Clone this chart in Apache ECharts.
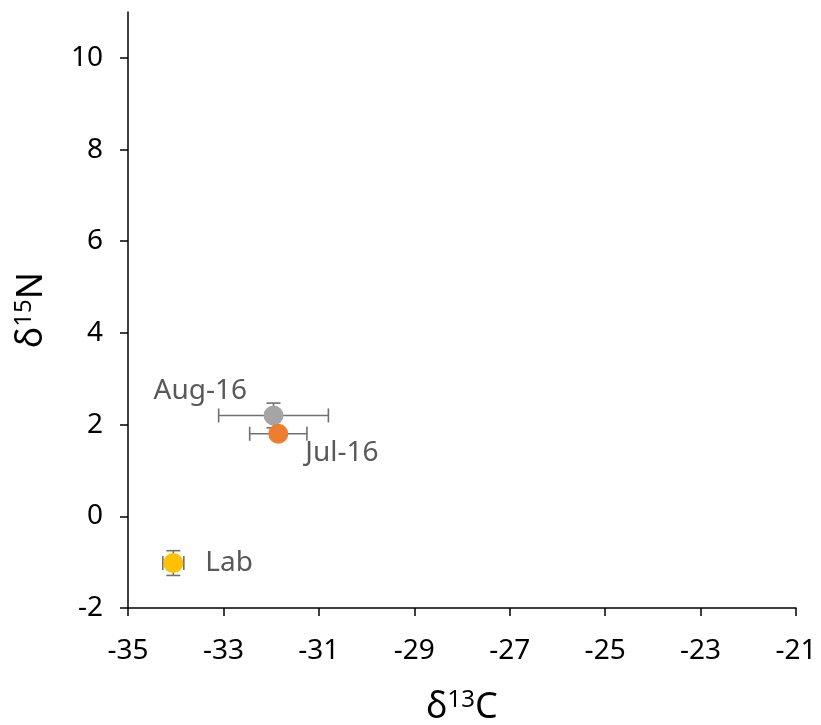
<!DOCTYPE html>
<html><head><meta charset="utf-8">
<script src="https://cdn.jsdelivr.net/npm/echarts@6/dist/echarts.min.js"></script>
<style>html,body{margin:0;padding:0;background:#fff}#c{width:821px;height:725px}</style>
</head><body><div id="c"></div>
<script>
const names = ['Lab', 'Jul-16', 'Aug-16'];
const d13C = [-34.05, -31.85, -31.95];
const d15N = [-1.02, 1.8, 2.2];
const xErr = [0.22, 0.6, 1.15];
const yErr = [0.27, 0.1, 0.27];
const colors = ['#FFC000', '#ED7D31', '#A5A5A5'];
const xTicks = [-35, -33, -31, -29, -27, -25, -23, -21];
const yTicks = [-2, 0, 2, 4, 6, 8, 10];

const FONT = 'Noto Sans';
const chart = echarts.init(document.getElementById('c'), null, {renderer: 'canvas'});
const labelPos = {
  'Lab': {position: 'right', distance: 22},
  'Jul-16': {position: [37, 15]},
  'Aug-16': {position: [-110, -28]}
};
const errData = names.map((n, i) => [d13C[i], d15N[i], xErr[i], yErr[i]]);
const order = [2, 1, 0];
const scatterSeries = order.map(i => ({
  type: 'scatter',
  name: names[i],
  data: [[d13C[i], d15N[i]]],
  symbolSize: 20,
  z: 3 + (i === 1 ? 1 : 0),
  itemStyle: {color: colors[i], opacity: 1},
  label: Object.assign({
    show: true,
    formatter: names[i],
    color: '#595959',
    fontFamily: FONT,
    fontSize: 28
  }, labelPos[names[i]])
}));
const titleRich = {
  a: {fontFamily: FONT, fontSize: 36, color: '#000'},
  s: {fontFamily: FONT, fontSize: 24, color: '#000', verticalAlign: 'top', padding: [0, 0, 16, 0]}
};
chart.setOption({
  animation: false,
  grid: {left: 128, right: 25, top: 12, bottom: 117, outerBoundsMode: 'none', containLabel: false},
  xAxis: {
    type: 'value', min: -35, max: -21,
    splitLine: {show: false},
    axisLine: {onZero: false, lineStyle: {color: '#000', width: 1.5}},
    axisTick: {show: true, length: 8, lineStyle: {color: '#000', width: 1.5}, customValues: xTicks},
    axisLabel: {customValues: xTicks, color: '#000', fontFamily: FONT, fontSize: 28, margin: 29},
    name: '{a|δ}{s|13}{a|C}',
    nameLocation: 'middle', nameGap: 80,
    nameTextStyle: {rich: titleRich}
  },
  yAxis: {
    type: 'value', min: -2, max: 11,
    splitLine: {show: false},
    axisLine: {onZero: false, lineStyle: {color: '#000', width: 1.5}},
    axisTick: {show: true, length: 8, lineStyle: {color: '#000', width: 1.5}, customValues: yTicks},
    axisLabel: {customValues: yTicks, color: '#000', fontFamily: FONT, fontSize: 28, margin: 25},
    name: '{a|δ}{s|15}{a|N}',
    nameLocation: 'middle', nameGap: 76, nameRotate: 90,
    nameTextStyle: {rich: titleRich}
  },
  series: [{
    type: 'custom',
    z: 2,
    data: errData,
    renderItem: function (params, api) {
      const x = api.value(0), y = api.value(1), ex = api.value(2), ey = api.value(3);
      const l = api.coord([x - ex, y]), r = api.coord([x + ex, y]);
      const t = api.coord([x, y + ey]), b = api.coord([x, y - ey]);
      const c = 7;
      const st = {stroke: '#707070', lineWidth: 1.6};
      const line = (x1, y1, x2, y2) => ({type: 'line', shape: {x1, y1, x2, y2}, style: st});
      return {type: 'group', children: [
        line(l[0], l[1], r[0], r[1]),
        line(l[0], l[1] - c, l[0], l[1] + c),
        line(r[0], r[1] - c, r[0], r[1] + c),
        line(t[0], t[1], b[0], b[1]),
        line(t[0] - c, t[1], t[0] + c, t[1]),
        line(b[0] - c, b[1], b[0] + c, b[1])
      ]};
    }
  }].concat(scatterSeries)
});
</script></body></html>
